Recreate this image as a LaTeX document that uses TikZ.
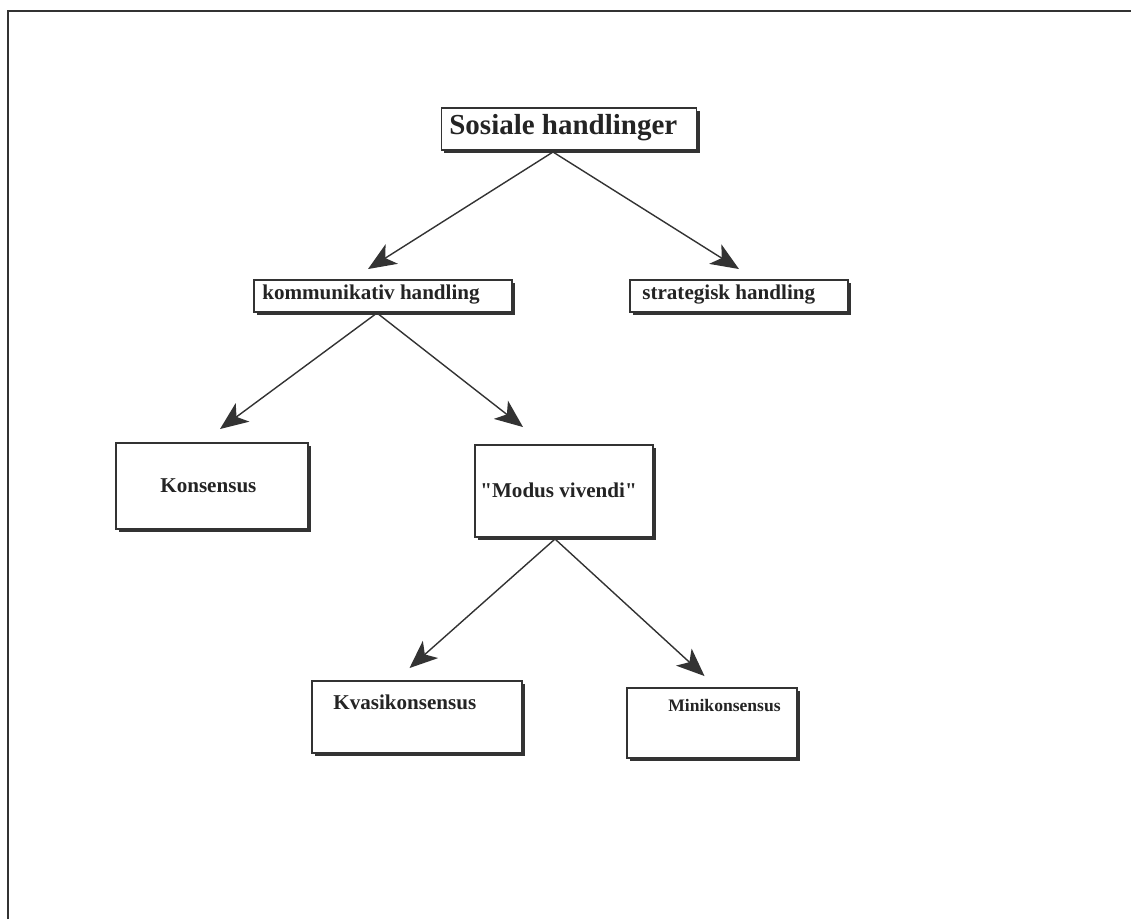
\documentclass[tikz,border=0pt]{standalone}
\usepackage{fontspec}
\setmainfont{Liberation Serif}
\usetikzlibrary{arrows.meta,shadows}
\definecolor{ink}{HTML}{333333}
\definecolor{paper}{HTML}{FFFFFF}
\tikzset{
  block/.style={draw=ink, fill=paper, line width=1.1pt, inner sep=0pt,
                drop shadow={shadow xshift=1.7pt, shadow yshift=-1.7pt, fill=ink, opacity=1}},
  boxtext/.style={anchor=west, inner sep=0pt, text=ink!70!black,
                  font=\fontsize{12}{14}\selectfont\bfseries},
  arrow/.style={-{Stealth[length=5.6mm,width=4.6mm,inset=1.5mm]}, line width=0.8pt, draw=ink},
  frame/.style={draw=ink, line width=1.7pt}
}
\begin{document}
\begin{tikzpicture}[x=0.02cm,y=-0.02cm]
  \useasboundingbox (0,0) rectangle (1131,919);
  \draw[frame] (8,919) -- (8,11) -- (1131,11);
  % top level
  \node[block,minimum width=255*0.02cm,minimum height=42*0.02cm] (sos) at (569,129) {};
  \node[boxtext,font=\fontsize{16.5}{18}\selectfont\bfseries] (sostext) at (449,128) {Sosiale handlinger};
  \node[block,minimum width=258*0.02cm,minimum height=32*0.02cm] (kom) at (383,296) {};
  \node[boxtext] (komtext) at (262,295) {kommunikativ handling};
  \node[block,minimum width=218*0.02cm,minimum height=32*0.02cm] (str) at (739,296) {};
  \node[boxtext] (strtext) at (642,295) {strategisk handling};
  % consensus types
  \node[block,minimum width=192*0.02cm,minimum height=86*0.02cm] (kons) at (212,486) {};
  \node[boxtext] (konstext) at (160,486) {Konsensus};
  \node[block,minimum width=178*0.02cm,minimum height=92*0.02cm] (mod) at (564,491) {};
  \node[boxtext] (modtext) at (480,490) {\textquotedbl Modus vivendi\textquotedbl};
  \node[block,minimum width=210*0.02cm,minimum height=72*0.02cm] (kva) at (417,717) {};
  \node[boxtext] (kvatext) at (333,702) {Kvasikonsensus};
  \node[block,minimum width=170*0.02cm,minimum height=70*0.02cm] (min) at (712,723) {};
  \node[boxtext,font=\fontsize{10}{12}\selectfont\bfseries] (mintext) at (668,706) {Minikonsensus};
  % connectors
  \coordinate (sosfoot) at (553,152);
  \coordinate (komfoot) at (377,313);
  \coordinate (modfoot) at (555,539);
  \draw[arrow] (sosfoot) -- ([xshift=-0.3cm,yshift=0.2cm]kom.north);
  \draw[arrow] (sosfoot) -- ([yshift=0.2cm]str.north);
  \draw[arrow] (komfoot) -- ([xshift=0.16cm,yshift=0.26cm]kons.north);
  \draw[arrow] (komfoot) -- ([xshift=-0.82cm,yshift=0.34cm]mod.north);
  \draw[arrow] (modfoot) -- ([xshift=-0.15cm,yshift=0.24cm]kva.north);
  \draw[arrow] (modfoot) -- ([xshift=-0.15cm,yshift=0.22cm]min.north);
\end{tikzpicture}
\end{document}
